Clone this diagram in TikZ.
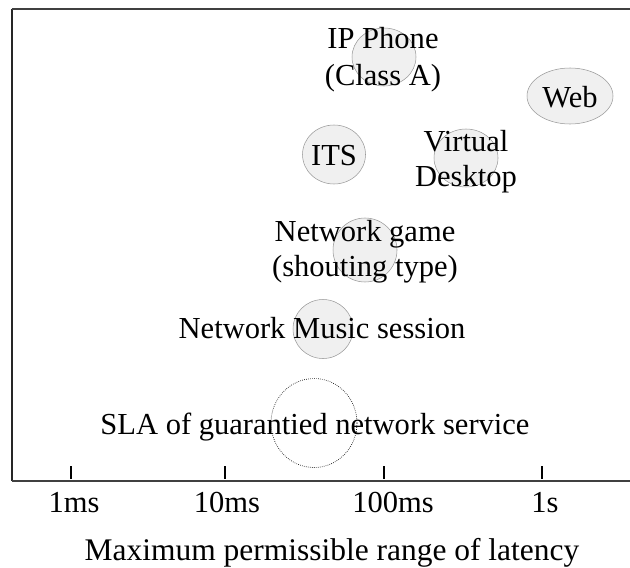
\documentclass[tikz,border=0pt]{standalone}
\usepackage{fontspec}
\setmainfont{Liberation Serif}
\usetikzlibrary{shapes.geometric}
\tikzset{
  bubble/.style={ellipse, draw=black!40, line width=0.4pt, fill=black!6, inner sep=0pt},
  slabubble/.style={ellipse, draw=black, densely dotted, line width=0.5pt, inner sep=0pt},
  lbl/.style={anchor=base, inner sep=0pt, font=\fontsize{22.9}{27}\selectfont},
  ticklbl/.style={anchor=base, inner sep=0pt, font=\fontsize{22.9}{27}\selectfont},
  tickmark/.style={line width=1.1pt, black},
  frameline/.style={black!75, line width=1.2pt},
}
\begin{document}
\begin{tikzpicture}[x=0.75pt, y=-0.75pt]
\useasboundingbox (0,0) rectangle (630,567);

% frame (open on the right)
\draw[black!85, line width=0.8pt] (12,481) -- (12,9);
\draw[frameline] (11.5,9) -- (630,9);
\draw[frameline] (11.5,481) -- (630,481);

% bubbles
\node[bubble, minimum width={64*0.75pt}, minimum height={58*0.75pt}] (ipb) at (384,57) {};
\node[bubble, minimum width={86*0.75pt}, minimum height={56*0.75pt}] (webb) at (570,96) {};
\node[bubble, minimum width={63*0.75pt}, minimum height={59*0.75pt}] (itsb) at (334,154.5) {};
\node[bubble, minimum width={64*0.75pt}, minimum height={58*0.75pt}] (vdb) at (466,158) {};
\node[bubble, minimum width={64*0.75pt}, minimum height={64*0.75pt}] (gameb) at (365,250) {};
\node[bubble, minimum width={60*0.75pt}, minimum height={59*0.75pt}] (musicb) at (323,329) {};
\node[slabubble, minimum width={86*0.75pt}, minimum height={89*0.75pt}] (slab) at (314,423) {};

% labels
\node[lbl] (ip1) at (383,49) {IP Phone};
\node[lbl] (ip2) at (383,85) {(Class A)};
\node[lbl] (web) at (570,107) {Web};
\node[lbl] (its) at (334,165) {ITS};
\node[lbl] (vd1) at (466,151) {Virtual};
\node[lbl] (vd2) at (466,186) {Desktop};
\node[lbl] (game1) at (365,241) {Network game};
\node[lbl] (game2) at (365,276) {(shouting type)};
\node[lbl] (music) at (322,338) {Network Music session};
\node[lbl] (sla) at (315,434) {SLA of guarantied network service};

% axis ticks and tick labels
\foreach \x/\name in {71/t1, 225/t2, 384/t3, 542/t4}{
  \coordinate (\name) at (\x,466);
  \draw[tickmark] (\name) -- (\x,479);
}
\node[ticklbl] (l1) at (74,512) {1ms};
\node[ticklbl] (l2) at (227,512) {10ms};
\node[ticklbl] (l3) at (393,512) {100ms};
\node[ticklbl] (l4) at (545,512) {1s};

% axis title
\node[lbl, font=\fontsize{23.6}{28}\selectfont] (axis) at (332,560) {Maximum permissible range of latency};
\end{tikzpicture}
\end{document}
